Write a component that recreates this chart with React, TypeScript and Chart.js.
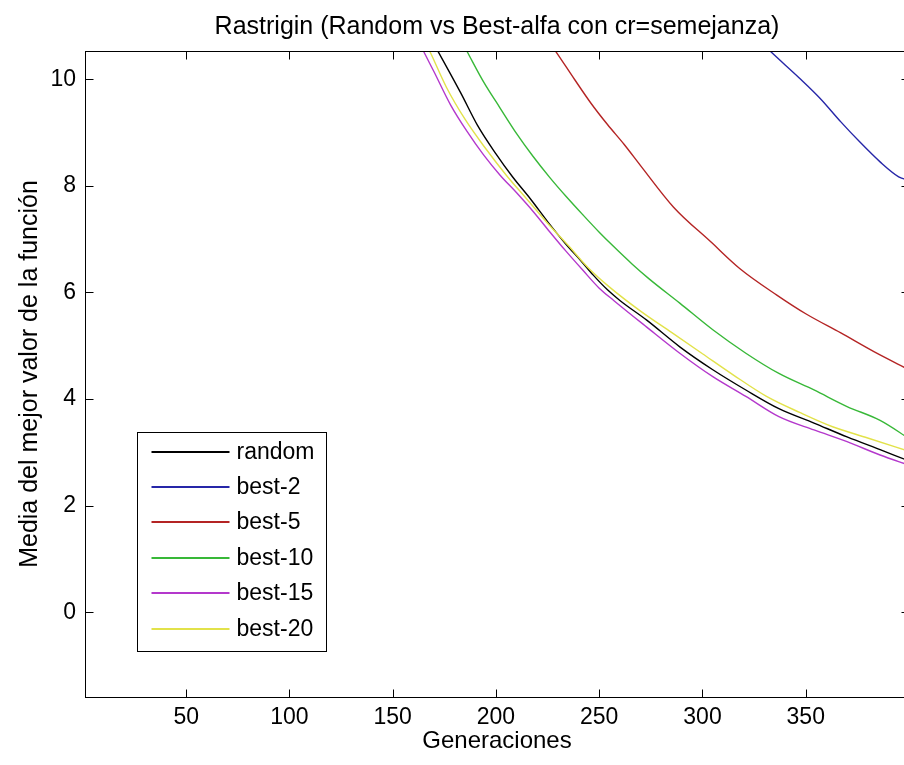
import React, { useEffect, useRef } from "react";
import { Chart, registerables } from "chart.js";

Chart.register(...registerables);

// ---- data ----
const chartTitle = "Rastrigin (Random vs Best-alfa con cr=semejanza)";
const xAxisLabel = "Generaciones";
const yAxisLabel = "Media del mejor valor de la función";

const xTickValues = [50, 100, 150, 200, 250, 300, 350];
const yTickValues = [0, 2, 4, 6, 8, 10];

const seriesLabels = ["random", "best-2", "best-5", "best-10", "best-15", "best-20"];
const seriesColors = ["#000000", "#2626a8", "#b42424", "#38b838", "#b438cc", "#e2e24a"];

const randomGen = [165, 172, 183, 191, 200, 208, 217, 225, 234, 241, 247, 254, 260, 273, 289, 305, 321, 337, 354, 370, 386, 400];
const randomVal = [11.0, 10.52, 9.74, 9.14, 8.6, 8.17, 7.74, 7.33, 6.9, 6.6, 6.33, 6.05, 5.85, 5.48, 4.98, 4.55, 4.17, 3.82, 3.55, 3.29, 3.05, 2.84];

const best2Gen = [327, 333, 347, 357, 367, 376, 386, 395, 400];
const best2Val = [10.75, 10.52, 10.02, 9.64, 9.2, 8.83, 8.45, 8.17, 8.1];

const best5Gen = [222, 229, 238, 246, 254, 262, 270, 286, 304, 318, 336, 350, 367, 383, 400];
const best5Val = [10.9, 10.52, 10.0, 9.55, 9.15, 8.78, 8.38, 7.6, 6.95, 6.45, 5.95, 5.6, 5.24, 4.89, 4.55];

const best10Gen = [180, 186, 194, 202, 210, 218, 226, 234, 242, 250, 257, 266, 274, 289, 305, 321, 337, 354, 370, 386, 400];
const best10Val = [10.95, 10.52, 9.95, 9.46, 8.98, 8.55, 8.16, 7.8, 7.46, 7.13, 6.86, 6.53, 6.26, 5.8, 5.3, 4.86, 4.48, 4.17, 3.86, 3.6, 3.26];

const best15Gen = [160, 165, 170, 178, 186, 194, 202, 210, 218, 226, 234, 242, 250, 257, 273, 289, 305, 321, 337, 354, 370, 386, 400];
const best15Val = [10.92, 10.52, 10.14, 9.52, 9.02, 8.58, 8.2, 7.87, 7.52, 7.14, 6.77, 6.42, 6.08, 5.85, 5.35, 4.86, 4.42, 4.05, 3.67, 3.42, 3.2, 2.95, 2.76];

const best20Gen = [163, 168, 176, 185, 195, 205, 215, 225, 235, 245, 255, 270, 285, 300, 315, 331, 347, 363, 380, 400];
const best20Val = [10.9, 10.52, 9.85, 9.25, 8.7, 8.2, 7.75, 7.3, 6.88, 6.45, 6.1, 5.65, 5.25, 4.85, 4.45, 4.05, 3.75, 3.48, 3.27, 3.02];

const seriesGens = [randomGen, best2Gen, best5Gen, best10Gen, best15Gen, best20Gen];
const seriesVals = [randomVal, best2Val, best5Val, best10Val, best15Val, best20Val];

const X_MIN = 1;
const X_MAX = 400;
const Y_MIN = -1.59;
const Y_MAX = 10.53;

const FONT_FAMILY = "'Liberation Sans', Arial, Helvetica, sans-serif";

const framePlugin = {
  id: "matlabFrame",
  afterDraw(chart: any) {
    const { ctx, chartArea: a, scales } = chart;
    ctx.save();
    ctx.strokeStyle = "#000";
    ctx.lineWidth = 1;
    const L = Math.round(a.left) + 0.5;
    const R = Math.round(a.right) + 0.5;
    const T = Math.round(a.top) + 0.5;
    const B = Math.round(a.bottom) + 0.5;
    ctx.strokeRect(L, T, R - L, B - T);
    const tl = 8;
    ctx.beginPath();
    scales.x.ticks.forEach((t: any) => {
      const px = Math.round(scales.x.getPixelForValue(t.value)) + 0.5;
      ctx.moveTo(px, B);
      ctx.lineTo(px, B - tl);
      ctx.moveTo(px, T);
      ctx.lineTo(px, T + tl);
    });
    scales.y.ticks.forEach((t: any) => {
      const py = Math.round(scales.y.getPixelForValue(t.value)) + 0.5;
      ctx.moveTo(L, py);
      ctx.lineTo(L + tl, py);
      ctx.moveTo(R, py);
      ctx.lineTo(R - tl, py);
    });
    ctx.stroke();

    // legend box
    const boxL = Math.round(a.left + 52) + 0.5;
    const boxT = Math.round(a.top + 381) + 0.5;
    const boxW = 189;
    const boxH = 219;
    ctx.fillStyle = "#fff";
    ctx.fillRect(boxL, boxT, boxW, boxH);
    ctx.strokeStyle = "#000";
    ctx.lineWidth = 1;
    ctx.strokeRect(boxL, boxT, boxW, boxH);
    const ds = chart.data.datasets;
    ctx.font = `23px ${FONT_FAMILY}`;
    ctx.textBaseline = "middle";
    ctx.textAlign = "left";
    ds.forEach((d: any, i: number) => {
      const y = Math.round(boxT + 19 + i * 35.4);
      ctx.strokeStyle = d.borderColor;
      ctx.lineWidth = 2;
      ctx.beginPath();
      ctx.moveTo(boxL + 14, y);
      ctx.lineTo(boxL + 92, y);
      ctx.stroke();
      ctx.fillStyle = "#000";
      ctx.fillText(d.label, boxL + 99, y + 1);
    });
    ctx.restore();
  },
};

export default function App() {
  const canvasRef = useRef<HTMLCanvasElement | null>(null);

  useEffect(() => {
    if (!canvasRef.current) return;
    const datasets = seriesLabels.map((label, i) => ({
      label,
      data: seriesGens[i].map((g, j) => ({ x: g, y: seriesVals[i][j] })),
      borderColor: seriesColors[i],
      backgroundColor: seriesColors[i],
      borderWidth: 1.4,
      pointRadius: 0,
      cubicInterpolationMode: "monotone" as const,
      fill: false,
      order: seriesLabels.length - i,
    }));

    const tickFont = { family: FONT_FAMILY, size: 23, weight: "normal" as const };
    const titleFont = { family: FONT_FAMILY, size: 25, weight: "normal" as const };
    const xTitleFont = { family: FONT_FAMILY, size: 24, weight: "normal" as const };

    const chart = new Chart(canvasRef.current, {
      type: "line",
      data: { datasets },
      plugins: [framePlugin],
      options: {
        responsive: false,
        animation: false,
        layout: { padding: { left: 0, right: 3, top: 0, bottom: 0 } },
        plugins: {
          legend: { display: false },
          tooltip: { enabled: false },
          title: {
            display: true,
            text: chartTitle,
            fullSize: false,
            color: "#000",
            font: titleFont,
            padding: { top: 12, bottom: 9 },
          },
        },
        scales: {
          x: {
            type: "linear",
            min: X_MIN,
            max: X_MAX,
            afterBuildTicks: (s: any) => {
              s.ticks = xTickValues.map((v) => ({ value: v }));
            },
            afterFit: (s: any) => {
              s.height = 68;
            },
            grid: { display: false, drawTicks: false },
            border: { display: false },
            ticks: {
              color: "#000",
              font: tickFont,
              padding: 7,
              maxRotation: 0,
              autoSkip: false,
            },
            title: {
              display: true,
              text: xAxisLabel,
              color: "#000",
              font: xTitleFont,
              padding: { top: 0, bottom: 9 },
            },
          },
          y: {
            type: "linear",
            min: Y_MIN,
            max: Y_MAX,
            afterBuildTicks: (s: any) => {
              s.ticks = yTickValues.map((v) => ({ value: v }));
            },
            afterFit: (s: any) => {
              s.width = 85;
            },
            grid: { display: false, drawTicks: false },
            border: { display: false },
            ticks: {
              color: "#000",
              font: tickFont,
              padding: 9,
              autoSkip: false,
            },
            title: {
              display: true,
              text: yAxisLabel,
              color: "#000",
              font: titleFont,
              padding: { top: 15, bottom: 0 },
            },
          },
        },
      },
    });
    return () => chart.destroy();
  }, []);

  return (
    <div
      style={{
        position: "absolute",
        left: 0,
        top: 0,
        width: 904,
        height: 765,
        overflow: "hidden",
        background: "#fff",
      }}
    >
      <canvas ref={canvasRef} width={912} height={765} style={{ display: "block" }} />
    </div>
  );
}
